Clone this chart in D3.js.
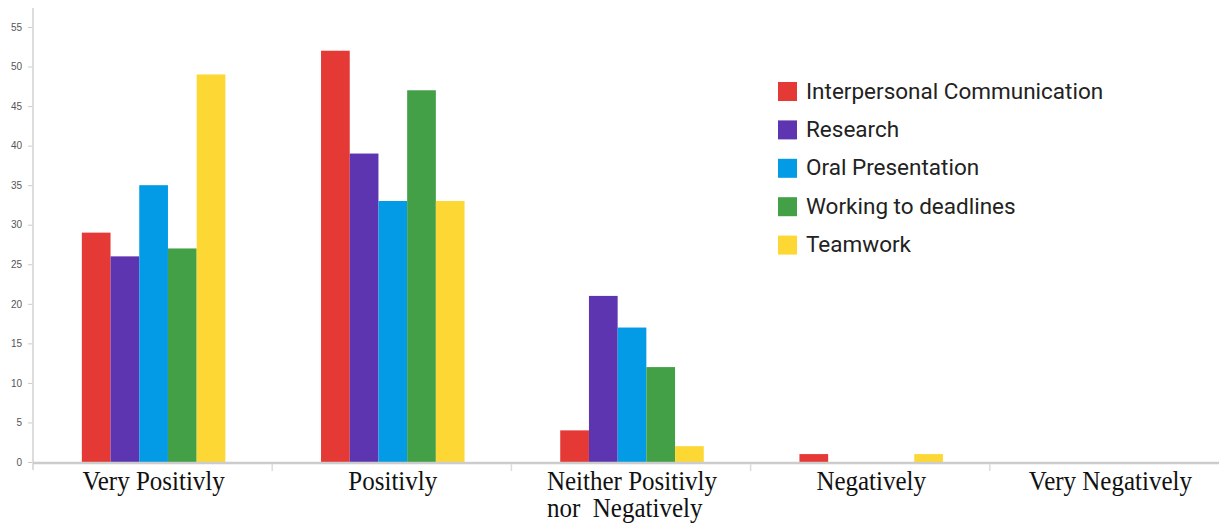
<!DOCTYPE html>
<html><head><meta charset="utf-8">
<script src="https://cdn.jsdelivr.net/npm/d3@7"></script>
<style>html,body{margin:0;padding:0;background:#fff;overflow:hidden}</style>
</head><body><svg id="c" width="1219" height="525"></svg>
<script>
const categories = ["Very Positivly", "Positivly", "Neither Positivly|nor  Negatively", "Negatively", "Very Negatively"];
const seriesNames = ["Interpersonal Communication", "Research", "Oral Presentation", "Working to deadlines", "Teamwork"];
const colors = ["#e53935", "#5e35b1", "#039be5", "#43a047", "#fdd835"];
const interpersonal = [29, 52, 4, 1, 0];
const research = [26, 39, 21, 0, 0];
const oral = [35, 33, 17, 0, 0];
const deadlines = [27, 47, 12, 0, 0];
const teamwork = [49, 33, 2, 1, 0];
const yTicks = [0, 5, 10, 15, 20, 25, 30, 35, 40, 45, 50, 55];

const series = [interpersonal, research, oral, deadlines, teamwork];
const svg = d3.select("#c");
const x0 = 33, x1 = 1229, yBase = 462, yTop = 27;
const x = d3.scaleBand().domain(categories).range([x0, x1]).padding(0);
const y = d3.scaleLinear().domain([0, 55]).range([yBase, yTop]);
const groupW = x.bandwidth() * 0.6;
const xs = d3.scaleBand().domain(d3.range(series.length)).range([0, groupW]).padding(0);

// y axis
const yAxis = svg.append("g").attr("transform", `translate(${x0},0)`)
  .call(d3.axisLeft(y).tickValues(yTicks).tickSize(5).tickPadding(6));
yAxis.select(".domain").remove();
yAxis.selectAll(".tick line").attr("stroke", "#ccc");
yAxis.selectAll(".tick text").attr("fill", "#555").style("font-family", "Liberation Sans, Arial, sans-serif").style("font-size", "10px");
svg.append("line").attr("x1", x0).attr("x2", x0).attr("y1", 8).attr("y2", 470).attr("stroke", "#ddd").attr("stroke-width", 2);

// bars
categories.forEach((c, ci) => {
  const gx = x(c) + (x.bandwidth() - groupW) / 2 + 1;
  series.forEach((s, si) => {
    if (s[ci] <= 0) return;
    svg.append("rect")
      .attr("x", gx + xs(si)).attr("width", xs.bandwidth())
      .attr("y", y(s[ci])).attr("height", yBase - y(s[ci]))
      .attr("fill", colors[si]);
  });
});

// x axis
svg.append("line").attr("x1", x0).attr("x2", 1219).attr("y1", yBase + 1).attr("y2", yBase + 1).attr("stroke", "#ccc").attr("stroke-width", 2.5);
categories.forEach((c, ci) => {
  if (ci === 0) return;
  svg.append("line").attr("x1", x(c)).attr("x2", x(c)).attr("y1", yBase + 2).attr("y2", yBase + 9).attr("stroke", "#ddd").attr("stroke-width", 1.5);
});

// x labels
const lf = "Liberation Serif, Times New Roman, serif";
categories.forEach((c) => {
  const cx = x(c) + x.bandwidth() / 2 + 1;
  const lines = c.split("|");
  const g = svg.append("g").attr("transform", `translate(${cx},490) scale(1,1.06)`);
  const t = g.append("text").attr("text-anchor", lines.length > 1 ? "start" : "middle")
    .style("font-family", lf).style("font-size", "25px").attr("fill", "#111");
  if (lines.length === 1) {
    t.text(c);
  } else {
    const tmp = g.append("text").style("font-family", lf).style("font-size", "25px").text(lines[0]);
    const w = tmp.node().getComputedTextLength(); tmp.remove();
    t.attr("xml:space", "preserve");
    lines.forEach((l, i) => t.append("tspan").attr("x", -w / 2).attr("dy", i === 0 ? 0 : 25.5).text(l));
  }
});

// legend
const lg = svg.append("g").attr("transform", "translate(778,82)");
seriesNames.forEach((n, i) => {
  lg.append("rect").attr("x", 0).attr("y", i * 38.4).attr("width", 19).attr("height", 19).attr("fill", colors[i]);
  lg.append("text").attr("x", 28).attr("y", i * 38.4 + 16.5).text(n)
    .style("font-family", "Roboto, Arial, sans-serif").style("font-size", "22.5px").attr("fill", "#222");
});
</script></body></html>
